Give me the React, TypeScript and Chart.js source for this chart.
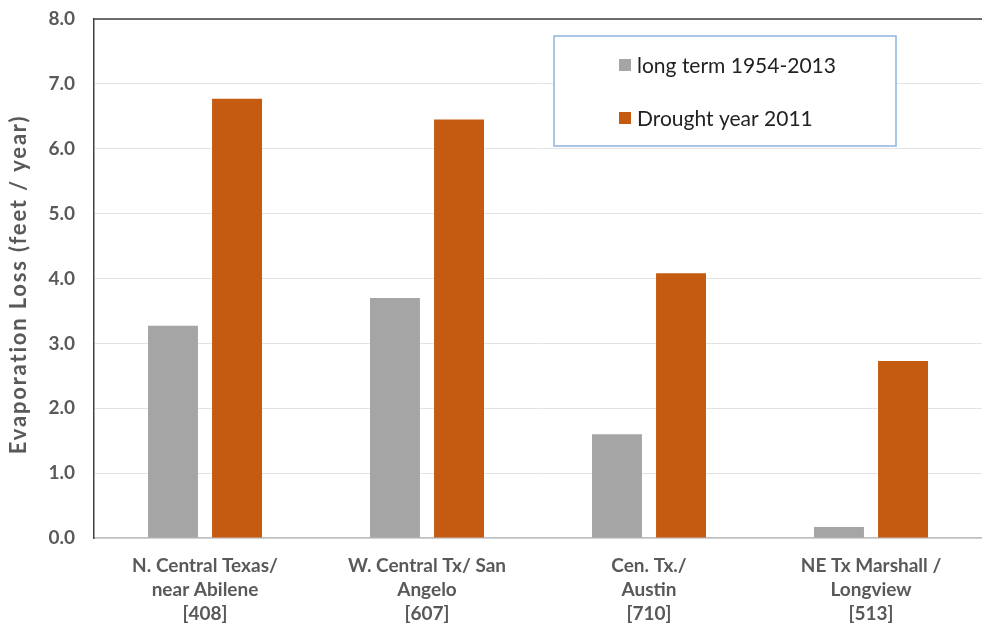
import React, { useEffect, useRef } from "react";
import { Chart, registerables } from "chart.js";

Chart.register(...registerables);

const categories: string[][] = [
  ["N. Central Texas/", "near Abilene", "[408]"],
  ["W. Central Tx/ San", "Angelo", "[607]"],
  ["Cen. Tx./", "Austin", "[710]"],
  ["NE Tx Marshall /", "Longview", "[513]"],
];
const longTermLabel = "long term 1954-2013";
const droughtLabel = "Drought year 2011";
const longTermValues = [3.27, 3.7, 1.6, 0.17];
const droughtValues = [6.77, 6.45, 4.08, 2.73];
const yTitle = "Evaporation Loss (feet / year)";

const FONT = "Lato";
const TEXT = "#595959";

const framePlugin = {
  id: "frameAndLegend",
  afterDraw(chart: any) {
    const { ctx, chartArea } = chart;
    ctx.save();
    // top border
    ctx.strokeStyle = "#404040";
    ctx.lineWidth = 1.5;
    ctx.beginPath();
    ctx.moveTo(chartArea.left, chartArea.top);
    ctx.lineTo(chartArea.right, chartArea.top);
    ctx.stroke();

    // y axis title
    ctx.save();
    ctx.font = `bold 22px ${FONT}`;
    const w = ctx.measureText(yTitle).width;
    const target = 340;
    const spacing = Math.max(0, (target - w) / yTitle.length);
    (ctx as any).letterSpacing = `${spacing}px`;
    ctx.translate(19, (chartArea.top + chartArea.bottom) / 2 + 6);
    ctx.rotate(-Math.PI / 2);
    ctx.fillStyle = TEXT;
    ctx.textAlign = "center";
    ctx.textBaseline = "middle";
    ctx.fillText(yTitle, 0, 0);
    ctx.restore();

    // legend box
    const bx = chartArea.left + 460;
    const by = chartArea.top + 17;
    const bw = 342;
    const bh = 110;
    ctx.fillStyle = "#ffffff";
    ctx.fillRect(bx, by, bw, bh);
    ctx.strokeStyle = "#8DB5DC";
    ctx.lineWidth = 1.5;
    ctx.strokeRect(bx, by, bw, bh);
    const ds = chart.data.datasets;
    const rows = [by + 29, by + 82];
    ctx.font = `21px ${FONT}`;
    ctx.textBaseline = "middle";
    ds.forEach((d: any, i: number) => {
      ctx.fillStyle = d.backgroundColor;
      ctx.fillRect(bx + 65, rows[i] - 6, 12, 12);
      ctx.fillStyle = "#222222";
      ctx.fillText(d.label, bx + 83, rows[i] + 1);
    });
    ctx.restore();
  },
};

export default function App() {
  const ref = useRef<HTMLCanvasElement | null>(null);
  useEffect(() => {
    if (!ref.current) return;
    const chart = new Chart(ref.current, {
      type: "bar",
      data: {
        labels: categories,
        datasets: [
          {
            label: longTermLabel,
            data: longTermValues,
            backgroundColor: "#A5A5A5",
            categoryPercentage: 0.577,
            barPercentage: 0.78,
          },
          {
            label: droughtLabel,
            data: droughtValues,
            backgroundColor: "#C55A11",
            categoryPercentage: 0.577,
            barPercentage: 0.78,
          },
        ],
      },
      options: {
        animation: false,
        responsive: false,
        layout: { padding: { top: 19, right: 0, left: 0, bottom: 0 } },
        plugins: { legend: { display: false }, tooltip: { enabled: false } },
        scales: {
          x: {
            grid: { display: false, drawTicks: false },
            border: { color: "#BFBFBF", width: 1.5 },
            ticks: {
              color: TEXT,
              font: { family: FONT, size: 19, weight: "bold", lineHeight: 1.27 },
              padding: 16,
              maxRotation: 0,
              autoSkip: false,
            },
            afterFit(scale: any) {
              scale.height = 89;
            },
          },
          y: {
            min: 0,
            max: 8,
            ticks: {
              stepSize: 1,
              color: TEXT,
              font: { family: FONT, size: 19, weight: "bold" },
              padding: 19,
              callback: (v: any) => Number(v).toFixed(1),
            },
            grid: { color: "#E3E3E3", lineWidth: 1, drawTicks: false },
            border: { color: "#404040", width: 1.5 },
            title: { display: false },
            afterFit(scale: any) {
              scale.width = 94;
              scale.paddingTop = 0;
              scale.paddingBottom = 0;
            },
          },
        },
      },
      plugins: [framePlugin],
    });
    return () => chart.destroy();
  }, []);
  return (
    <div style={{ position: "fixed", left: 0, top: 0, width: 982, height: 627, background: "#fff" }}>
      <canvas ref={ref} width={982} height={627} />
    </div>
  );
}
